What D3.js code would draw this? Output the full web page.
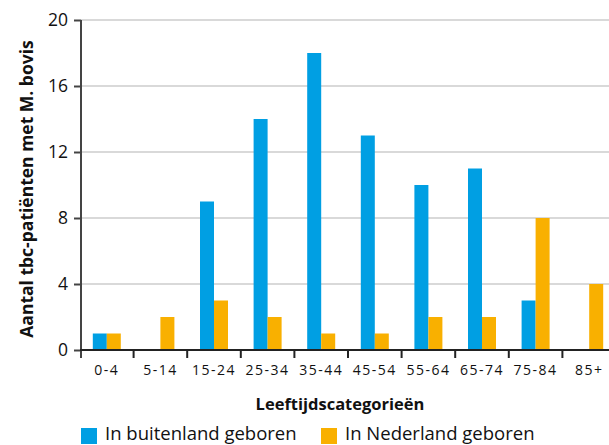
<!DOCTYPE html>
<html><head><meta charset="utf-8">
<script src="https://cdn.jsdelivr.net/npm/d3@7"></script>
<style>body{margin:0;background:#fff;} svg{display:block;font-family:"Open Sans","Noto Sans",sans-serif;}</style>
</head><body>
<svg id="c" width="609" height="445"></svg>
<script>
const categories = ["0-4","5-14","15-24","25-34","35-44","45-54","55-64","65-74","75-84","85+"];
const buitenland = [1,0,9,14,18,13,10,11,3,0];
const nederland = [1,2,3,2,1,1,2,2,8,4];
const yTicks = [0,4,8,12,16,20];
const seriesNames = ["In buitenland geboren","In Nederland geboren"];
const colors = ["#009FE3","#F9B000"];

const svg = d3.select("#c");
const x = d3.scaleBand().domain(categories).range([80,616]).padding(0);
const y = d3.scaleLinear().domain([0,20]).range([350,20]);
const barW = 14;

// gridlines
svg.append("g").selectAll("line").data(yTicks.filter(d=>d>0)).join("line")
  .attr("x1",81).attr("x2",609).attr("y1",d=>y(d)).attr("y2",d=>y(d))
  .attr("stroke","#d9d9d9").attr("stroke-width",2);

// bars
const data = categories.map((c,i)=>({c, v:[buitenland[i], nederland[i]]}));
const g = svg.append("g");
data.forEach(d=>{
  d.v.forEach((v,k)=>{
    if(v<=0) return;
    const cx = x(d.c)+x.bandwidth()/2;
    g.append("rect").attr("x", k===0? cx-barW : cx).attr("width",barW)
      .attr("y",y(v)).attr("height",y(0)-y(v)).attr("fill",colors[k]);
  });
});

// y axis
const ya = svg.append("g").attr("transform","translate(81,0)")
  .call(d3.axisLeft(y).tickValues(yTicks).tickSize(7).tickSizeOuter(0).tickPadding(6));
ya.select(".domain").attr("stroke","#444").attr("stroke-width",2).attr("d","M0,20V358");
ya.selectAll(".tick line").attr("stroke","#444").attr("stroke-width",2);
ya.selectAll(".tick text").attr("font-size",17.5).attr("fill","#111").attr("font-family","'Open Sans',sans-serif");

// x axis
const xa = svg.append("g").attr("transform","translate(0,350)")
  .call(d3.axisBottom(x).tickSize(0).tickPadding(15));
xa.select(".domain").attr("stroke","#222").attr("stroke-width",2).attr("d","M80,0H609");
xa.selectAll(".tick text").attr("font-size",14).attr("fill","#111").attr("letter-spacing","1.5px").attr("font-family","'Open Sans',sans-serif");
svg.append("g").selectAll("line").data(categories.slice(1)).join("line")
  .attr("x1",d=>x(d)).attr("x2",d=>x(d)).attr("y1",350).attr("y2",358)
  .attr("stroke","#222").attr("stroke-width",2);

// titles
svg.append("text").attr("transform","translate(33,189) rotate(-90)").attr("text-anchor","middle")
  .attr("font-size",17.5).attr("font-weight","bold").attr("fill","#111").text("Aantal tbc-patiënten met M. bovis");
svg.append("text").attr("x",340).attr("y",410).attr("text-anchor","middle")
  .attr("font-size",16.5).attr("font-weight","bold").attr("fill","#111").text("Leeftijdscategorieën");

// legend
const lx = [81,321];
seriesNames.forEach((n,k)=>{
  svg.append("rect").attr("x",lx[k]).attr("y",428).attr("width",16).attr("height",16).attr("fill",colors[k]);
  svg.append("text").attr("x",lx[k]+24).attr("y",440).attr("font-size",18.5).attr("fill","#111").text(n);
});
</script>
</body></html>
